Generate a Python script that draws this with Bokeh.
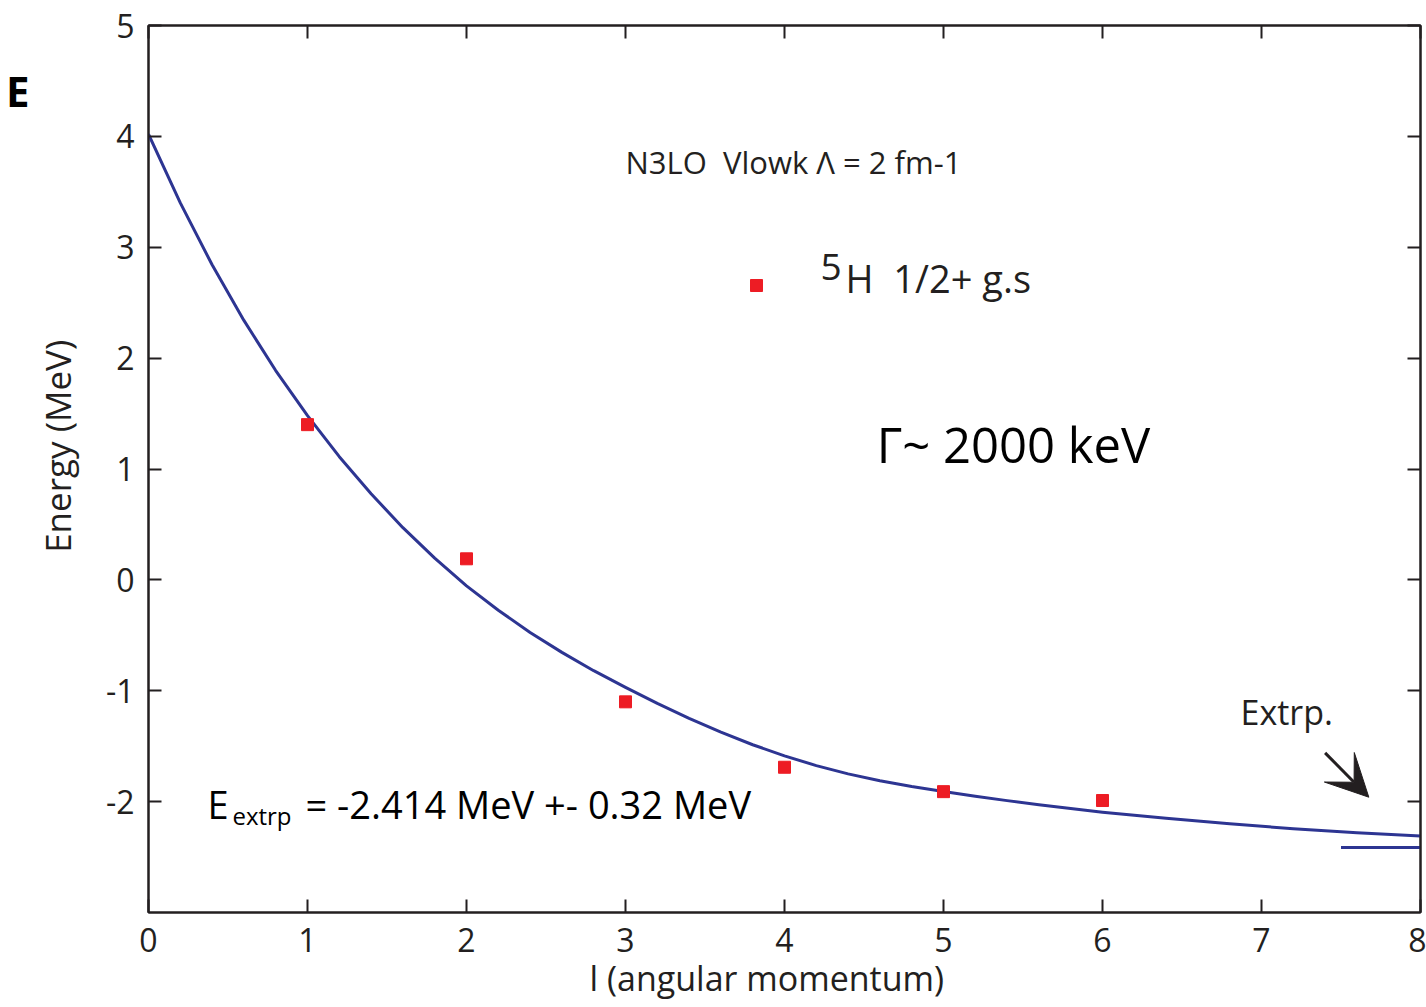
from bokeh.plotting import figure
from bokeh.models import (LinearAxis, Range1d, FixedTicker, Label, Arrow, VeeHead)
from bokeh.embed import file_html
from bokeh.resources import INLINE

# ---- data ----
l_points = [1, 2, 3, 4, 5, 6]
E_points = [1.40, 0.19, -1.10, -1.69, -1.91, -1.99]

fit_l = [0.0, 0.2, 0.4, 0.6, 0.8, 1.0, 1.2, 1.4, 1.6, 1.8, 2.0, 2.2, 2.4,
         2.6, 2.8, 3.0, 3.2, 3.4, 3.6, 3.8, 4.0, 4.2, 4.4, 4.6, 4.8, 5.0,
         5.2, 5.4, 5.6, 5.8, 6.0, 6.4, 6.8, 7.2, 7.6, 8.0]
fit_E = [4.02, 3.40, 2.842, 2.34, 1.888, 1.481, 1.111, 0.776, 0.471, 0.196,
         -0.054, -0.274, -0.474, -0.654, -0.819, -0.969, -1.114, -1.249,
         -1.374, -1.487, -1.587, -1.675, -1.75, -1.812, -1.864, -1.909,
         -1.951, -1.991, -2.028, -2.063, -2.096, -2.15, -2.20, -2.245,
         -2.28, -2.31]

E_extrp = -2.414
extrp_l = [7.50, 8.0]
extrp_E = [E_extrp, E_extrp]

x_ticks = [0, 1, 2, 3, 4, 5, 6, 7, 8]
y_ticks = [-2, -1, 0, 1, 2, 3, 4, 5]
y_tick_text = {-2: "-2", -1: "-1"}

NB = "\u00a0"
DARK = "#231f20"
BLUE = "#2d3592"
RED = "#ed1c24"
FONT = "Open Sans"

p = figure(frame_width=1272, frame_height=887,
           x_range=Range1d(0, 8), y_range=Range1d(-3, 5),
           output_backend="svg", toolbar_location=None,
           min_border_left=148, min_border_right=6,
           min_border_top=25, min_border_bottom=91,
           background_fill_color="white", border_fill_color="white")
p.grid.visible = False
p.outline_line_color = DARK
p.outline_line_width = 2

# bottom axis
xa = p.xaxis[0]
xa.ticker = FixedTicker(ticks=x_ticks)
xa.minor_tick_line_color = None
xa.major_tick_in = 13
xa.major_tick_out = 0
xa.major_tick_line_width = 2
xa.major_tick_line_color = DARK
xa.axis_line_width = 2
xa.axis_line_color = DARK
xa.major_label_text_font = FONT
xa.major_label_text_font_size = "32px"
xa.major_label_text_color = DARK
xa.major_label_standoff = 15
xa.axis_label = "l (angular momentum)" + NB * 4
xa.axis_label_text_font = FONT
xa.axis_label_text_font_style = "normal"
xa.axis_label_text_font_size = "34px"
xa.axis_label_text_color = DARK
xa.axis_label_standoff = 0

# left axis
ya = p.yaxis[0]
ya.ticker = FixedTicker(ticks=y_ticks)
ya.major_label_overrides = y_tick_text
ya.minor_tick_line_color = None
ya.major_tick_in = 13
ya.major_tick_out = 0
ya.major_tick_line_width = 2
ya.major_tick_line_color = DARK
ya.axis_line_width = 2
ya.axis_line_color = DARK
ya.major_label_text_font = FONT
ya.major_label_text_font_size = "32px"
ya.major_label_text_color = DARK
ya.major_label_standoff = 14
ya.axis_label = NB * 5 + "Energy (MeV)"
ya.axis_label_text_font = FONT
ya.axis_label_text_font_style = "normal"
ya.axis_label_text_font_size = "35px"
ya.axis_label_text_color = DARK
ya.axis_label_standoff = 22

# the cut-off letter at the page's top-left corner
corner = LinearAxis(ticker=FixedTicker(ticks=[4.41]), major_label_overrides={4.41: "E"},
                    major_label_text_font=FONT, major_label_text_font_size="42px",
                    major_label_text_font_style="bold", major_label_text_color="black",
                    major_label_standoff=-5, major_tick_line_color=None,
                    minor_tick_line_color=None, axis_line_color=None)
p.add_layout(corner, "left")

# top and right tick-only axes
top = LinearAxis(ticker=FixedTicker(ticks=x_ticks), major_label_text_font_size="0px",
                 major_label_standoff=0, major_tick_in=13, major_tick_out=0,
                 major_tick_line_width=2, major_tick_line_color=DARK,
                 minor_tick_line_color=None, axis_line_width=2, axis_line_color=DARK)
right = LinearAxis(ticker=FixedTicker(ticks=y_ticks), major_label_text_font_size="0px",
                   major_label_standoff=0, major_tick_in=13, major_tick_out=0,
                   major_tick_line_width=2, major_tick_line_color=DARK,
                   minor_tick_line_color=None, axis_line_width=2, axis_line_color=DARK)
p.add_layout(top, "above")
p.add_layout(right, "right")

# fit curve and extrapolated value
p.line(fit_l, fit_E, line_color=BLUE, line_width=3, line_join="round")
p.line(extrp_l, extrp_E, line_color=BLUE, line_width=3)

# data points with legend marker
p.scatter(l_points, E_points, marker="square", size=12, fill_color=RED,
          line_color=RED, legend_label=" ")
lg = p.legend[0]
lg.location = (593, 612)
lg.padding = 0
lg.margin = 0
lg.spacing = 0
lg.border_line_color = None
lg.background_fill_alpha = 0
lg.glyph_width = 30
lg.glyph_height = 30
lg.label_standoff = 0
lg.label_text_font = FONT
lg.label_text_font_size = "37px"
lg.label_text_color = DARK

# annotations (y is the vertical middle of the text)
def add_label(x, y, text, size, color=DARK, font=FONT, style="normal"):
    p.add_layout(Label(x=x, y=y, text=text, text_font=font, text_font_size=size,
                       text_color=color, text_font_style=style,
                       text_baseline="middle", text_align="left"))

add_label(4.226, 2.824, "5", "37px")
add_label(4.384, 2.724, "H" + NB + " 1/2+ g.s", "38px")
add_label(3.0, 3.771, "N3LO" + NB + " Vlowk \u039b = 2 fm-1", "31px")
add_label(4.58, 1.222, "\u0393~ 2000 keV", "49px", color="black")
add_label(0.371, -2.021, "E", "38px", color="black")
add_label(0.528, -2.123, "extrp", "24px", color="black")
add_label(0.987, -2.021, "= -2.414 MeV +- 0.32 MeV", "38px", color="black")
add_label(6.868, -1.196, "Extrp.", "34px")

p.add_layout(Arrow(end=VeeHead(size=42, fill_color=DARK, line_color=DARK),
                   x_start=7.40, y_start=-1.56, x_end=7.675, y_end=-1.96,
                   line_width=3, line_color=DARK))

open("out.html", "w").write(file_html(p, INLINE))
